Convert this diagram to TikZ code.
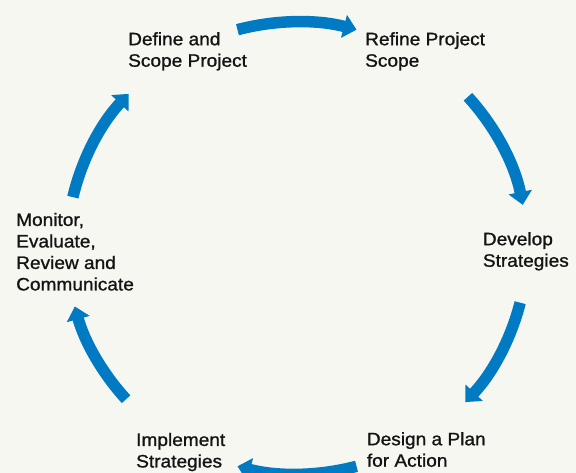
\documentclass[tikz,border=0pt]{standalone}
\usepackage{fontspec}
\setmainfont{Liberation Sans}[FakeBold=1.1,FakeStretch=1.06]
\usepackage{tikz}
\usetikzlibrary{arrows.meta}
\definecolor{cycleblue}{RGB}{0,122,194}
\definecolor{paper}{RGB}{247,247,242}
\definecolor{ink}{RGB}{20,20,20}

\begin{document}
\begin{tikzpicture}[x=1pt, y=1pt,
    phase/.style={anchor=north west, inner sep=0pt, align=left, text=ink,
      font=\fontsize{18}{21.5}\selectfont},
    turn/.style={draw=cycleblue, line width=11.5pt, -{Triangle[width=23pt,length=13pt]}}]
    \def\RX{230}
    \def\RY{226}
    \fill[paper] (-297,-225) rectangle (279,248);
    \useasboundingbox (-297,-225) rectangle (279,248);
    \node[phase] (define)    at (-169,216)   {Define and\\Scope Project};
    \node[phase] (refine)    at (68,216)     {Refine Project\\Scope};
    \node[phase] (develop)   at (185.7,16)   {Develop\\Strategies};
    \node[phase] (design)    at (69.7,-184)  {Design a Plan\\for Action};
    \node[phase] (implement) at (-161,-184.7) {Implement\\Strategies};
    \node[phase] (monitor)   at (-281,35.3)  {Monitor,\\Evaluate,\\Review and\\Communicate};
    \foreach \a/\b [count=\i] in {105/75, 42/11, -14/-43, -75/-105, 222/195, 167/137} {
      \coordinate (S\i) at (\a:\RX pt and \RY pt);
      \draw[turn] (S\i) arc[start angle=\a, end angle=\b, x radius=\RX pt, y radius=\RY pt];
    }
\end{tikzpicture}
\end{document}
